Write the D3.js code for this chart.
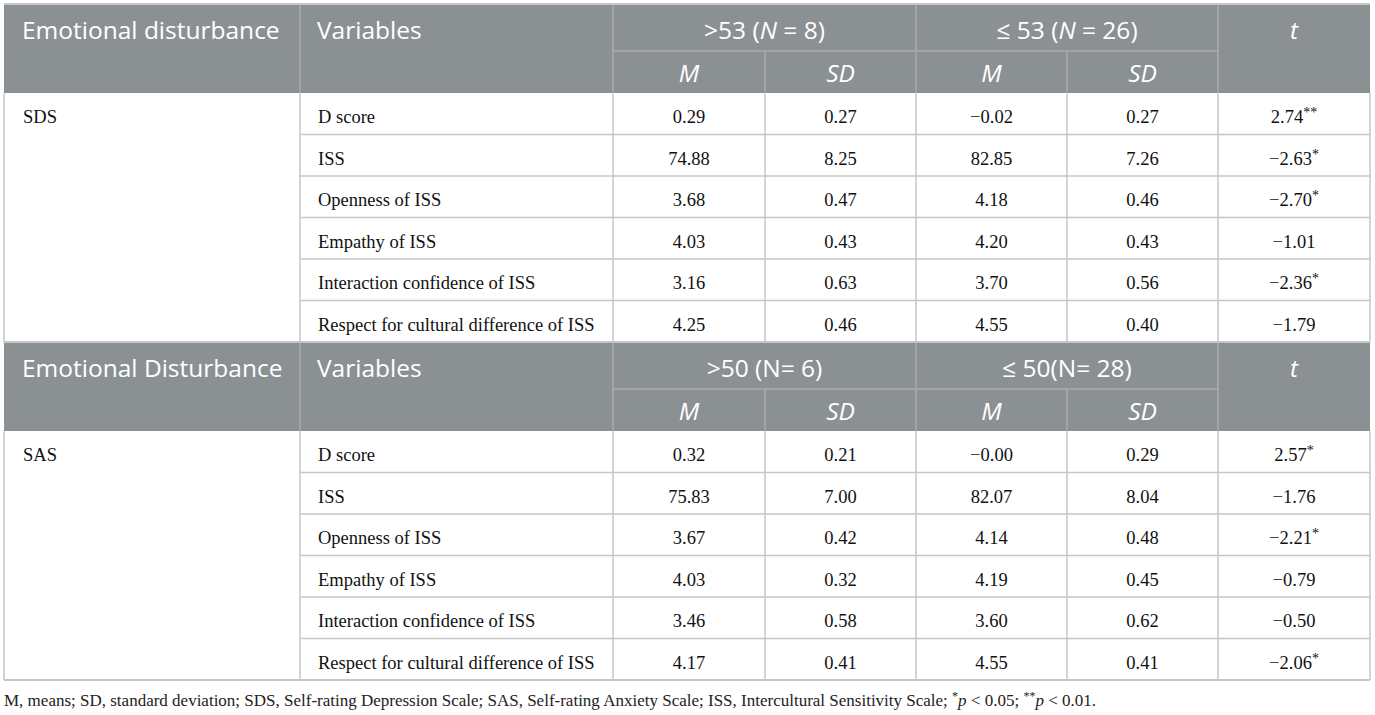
<!DOCTYPE html>
<html>
<head>
<meta charset="utf-8">
<script src="https://cdn.jsdelivr.net/npm/d3@7"></script>
<style>
  body { margin: 0; background: #fff; }
  svg { display: block; }
</style>
</head>
<body>
<div id="table"></div>
<script>
// table contents
const variables = ["D score", "ISS", "Openness of ISS", "Empathy of ISS",
                   "Interaction confidence of ISS", "Respect for cultural difference of ISS"];

const sdsHigh_M  = ["0.29", "74.88", "3.68", "4.03", "3.16", "4.25"];
const sdsHigh_SD = ["0.27", "8.25", "0.47", "0.43", "0.63", "0.46"];
const sdsLow_M   = ["\u22120.02", "82.85", "4.18", "4.20", "3.70", "4.55"];
const sdsLow_SD  = ["0.27", "7.26", "0.46", "0.43", "0.56", "0.40"];
const sdsT       = ["2.74", "\u22122.63", "\u22122.70", "\u22121.01", "\u22122.36", "\u22121.79"];
const sdsStars   = ["**", "*", "*", "", "*", ""];

const sasHigh_M  = ["0.32", "75.83", "3.67", "4.03", "3.46", "4.17"];
const sasHigh_SD = ["0.21", "7.00", "0.42", "0.32", "0.58", "0.41"];
const sasLow_M   = ["\u22120.00", "82.07", "4.14", "4.19", "3.60", "4.55"];
const sasLow_SD  = ["0.29", "8.04", "0.48", "0.45", "0.62", "0.41"];
const sasT       = ["2.57", "\u22121.76", "\u22122.21", "\u22120.79", "\u22120.50", "\u22122.06"];
const sasStars   = ["*", "", "*", "", "", "*"];

// layout
const width = 1375, height = 715;
const colEdges = [4, 300, 613, 765, 916, 1067, 1218, 1370];
const headH1 = 47, headH2 = 42, rowH = 41.5;
const headBg = "#8b9093";
const headLine = "#a9adb0";
const gridLine = "#c6c6c6";
const sansFont = "'Open Sans', 'Noto Sans', sans-serif";
const serifFont = "'Liberation Serif', 'DejaVu Serif', serif";
const bodySize = 18.5;

const svg = d3.select("#table").append("svg")
  .attr("width", width).attr("height", height);

const x = i => colEdges[i];
const cx = i => (colEdges[i] + colEdges[i + 1]) / 2;

function drawBlock(top, title, group, hiHead, loHead, cols, tVals, stars) {
  const headBottom = top + headH1 + headH2;
  const y = d3.scaleBand()
    .domain(d3.range(variables.length))
    .range([headBottom, headBottom + rowH * variables.length]);
  const g = svg.append("g");

  // header background and lines
  g.append("rect").attr("x", x(0)).attr("y", top)
    .attr("width", x(7) - x(0)).attr("height", headH1 + headH2)
    .attr("fill", headBg);
  g.append("line").attr("x1", x(2)).attr("x2", x(6))
    .attr("y1", top + headH1).attr("y2", top + headH1)
    .attr("stroke", headLine).attr("stroke-width", 1.5);
  [1, 2, 4, 6].forEach(i => g.append("line")
    .attr("x1", x(i)).attr("x2", x(i)).attr("y1", top).attr("y2", headBottom)
    .attr("stroke", headLine).attr("stroke-width", 1.5));
  [3, 5].forEach(i => g.append("line")
    .attr("x1", x(i)).attr("x2", x(i)).attr("y1", top + headH1).attr("y2", headBottom)
    .attr("stroke", headLine).attr("stroke-width", 1.5));
  g.append("line").attr("x1", x(0)).attr("x2", x(7))
    .attr("y1", top).attr("y2", top)
    .attr("stroke", gridLine).attr("stroke-width", 2);

  // header texts
  const hy1 = top + headH1 / 2 + 11, hy2 = top + headH1 + headH2 / 2 + 10;
  const ht = (xx, yy, anchor) => g.append("text").attr("x", xx).attr("y", yy)
    .attr("text-anchor", anchor).attr("fill", "#fff")
    .attr("font-family", sansFont).attr("font-size", 24.5);
  ht(22, hy1, "start").text(title);
  ht(317, hy1, "start").text("Variables");
  hiHead(ht((x(2) + x(4)) / 2, hy1, "middle"));
  loHead(ht((x(4) + x(6)) / 2, hy1, "middle"));
  ht(cx(6), hy1, "middle").attr("font-style", "italic").text("t");
  ["M", "SD", "M", "SD"].forEach((s, k) =>
    ht(cx(2 + k), hy2, "middle").attr("font-style", "italic").text(s));

  // body grid
  const bodyBottom = y(variables.length - 1) + y.bandwidth();
  variables.forEach((v, r) => {
    g.append("line").attr("x1", x(1)).attr("x2", x(7))
      .attr("y1", y(r) + y.bandwidth()).attr("y2", y(r) + y.bandwidth())
      .attr("stroke", gridLine).attr("stroke-width", 1.5);
  });
  g.append("line").attr("x1", x(0)).attr("x2", x(7))
    .attr("y1", bodyBottom).attr("y2", bodyBottom)
    .attr("stroke", gridLine).attr("stroke-width", 2);
  d3.range(8).forEach(i => g.append("line")
    .attr("x1", x(i)).attr("x2", x(i)).attr("y1", headBottom).attr("y2", bodyBottom)
    .attr("stroke", gridLine).attr("stroke-width", 1.5));

  // body texts
  const bt = (xx, yy, anchor) => g.append("text").attr("x", xx).attr("y", yy)
    .attr("text-anchor", anchor).attr("fill", "#111")
    .attr("font-family", serifFont).attr("font-size", bodySize);
  const by = r => y(r) + y.bandwidth() / 2 + 9.5;
  bt(23, by(0), "start").text(group);
  variables.forEach((v, r) => {
    bt(318, by(r), "start").text(v);
    cols.forEach((c, k) => bt(cx(2 + k), by(r), "middle").text(c[r]));
    const tt = bt(cx(6), by(r), "middle");
    tt.append("tspan").text(tVals[r]);
    if (stars[r]) tt.append("tspan").attr("dy", -6).attr("font-size", 14).text(stars[r]);
  });
  return bodyBottom;
}

const b1 = drawBlock(4, "Emotional disturbance", "SDS",
  t => { t.append("tspan").text(">53 ("); t.append("tspan").attr("font-style", "italic").text("N");
         t.append("tspan").text(" = 8)"); },
  t => { t.append("tspan").text("\u2264 53 ("); t.append("tspan").attr("font-style", "italic").text("N");
         t.append("tspan").text(" = 26)"); },
  [sdsHigh_M, sdsHigh_SD, sdsLow_M, sdsLow_SD], sdsT, sdsStars);

const b2 = drawBlock(b1, "Emotional Disturbance", "SAS",
  t => t.text(">50 (N= 6)"),
  t => t.text("\u2264 50(N= 28)"),
  [sasHigh_M, sasHigh_SD, sasLow_M, sasLow_SD], sasT, sasStars);

// footnote
const note = svg.append("text").attr("x", 4).attr("y", b2 + 26)
  .attr("fill", "#222").attr("font-family", serifFont).attr("font-size", 17);
note.append("tspan").text("M, means; SD, standard deviation; SDS, Self-rating Depression Scale; SAS, Self-rating Anxiety Scale; ISS, Intercultural Sensitivity Scale; ");
note.append("tspan").attr("dy", -6).attr("font-size", 12).text("*");
note.append("tspan").attr("dy", 6).attr("font-style", "italic").text("p");
note.append("tspan").text(" < 0.05; ");
note.append("tspan").attr("dy", -6).attr("font-size", 12).text("**");
note.append("tspan").attr("dy", 6).attr("font-style", "italic").text("p");
note.append("tspan").text(" < 0.01.");
</script>
</body>
</html>
